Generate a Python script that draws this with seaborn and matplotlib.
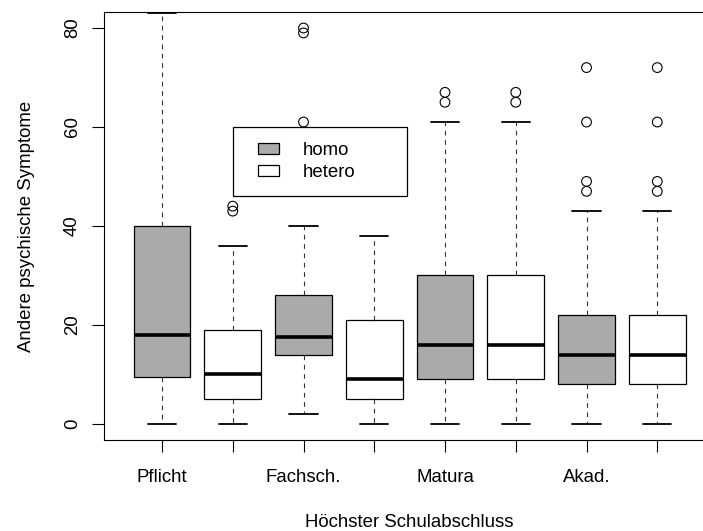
import matplotlib
matplotlib.use("Agg")
import matplotlib.pyplot as plt
from matplotlib.patches import Patch
from matplotlib.legend_handler import HandlerPatch
import pandas as pd
import seaborn as sns

# Groups: school-leaving level x orientation, one box per combination
schulabschluss = ["Pflicht", "Fachsch.", "Matura", "Akad."]
orientierung = ["homo", "hetero"]

# Box summaries in plotting order (Pflicht homo, Pflicht hetero, Fachsch. homo, ...)
whisker_lo = [0, 0, 2, 0, 0, 0, 0, 0]
quartil_1 = [9.5, 5, 14, 5, 9, 9, 8, 8]
median = [18, 10, 17.5, 9, 16, 16, 14, 14]
quartil_3 = [40, 19, 26, 21, 30, 30, 22, 22]
whisker_hi = [83, 36, 40, 38, 61, 61, 43, 43]
ausreisser = [[], [43, 44], [61, 79, 80], [], [65, 67], [65, 67],
              [47, 49, 61, 72], [47, 49, 61, 72]]

y_ticks = [0, 20, 40, 60, 80]
fill_colors = {"homo": "#AAAAAA", "hetero": "white"}

groups = [(s, o) for s in schulabschluss for o in orientierung]
slots = [f"{s} {o}" for s, o in groups]
tick_labels = [s if o == orientierung[0] else "" for s, o in groups]

box_rows = []
for i, (s, o) in enumerate(groups):
    for v in (whisker_lo[i], quartil_1[i], median[i], quartil_3[i], whisker_hi[i]):
        box_rows.append({"slot": slots[i], "Orientierung": o, "wert": v})
box_df = pd.DataFrame(box_rows)

out_df = pd.DataFrame([{"slot": slots[i], "wert": v}
                       for i in range(len(slots)) for v in ausreisser[i]])

sns.set_theme(style="white")
plt.rcParams["font.family"] = ["Liberation Sans", "DejaVu Sans"]
plt.rcParams["text.color"] = "black"
plt.rcParams["axes.labelcolor"] = "black"
FS = 13.4

fig = plt.figure(figsize=(7.03, 5.31), dpi=100)
ax = fig.add_axes([0.1479, 0.1718, 0.8696, 0.8053])

sns.boxplot(
    data=box_df, x="slot", y="wert", hue="Orientierung",
    order=slots, hue_order=orientierung, palette=fill_colors,
    dodge=False, width=0.8, whis=(0, 100), showfliers=False,
    linecolor="black", linewidth=0.9,
    medianprops={"linewidth": 2.6, "solid_capstyle": "butt"},
    whiskerprops={"linestyle": (0, (4.2, 4.2)), "linewidth": 0.8,
                  "color": "#333333"},
    capprops={"linewidth": 1.3},
    ax=ax,
)

n_before = len(ax.collections)
sns.stripplot(data=out_df, x="slot", y="wert", order=slots, jitter=False,
              color="black", size=7, marker="o", linewidth=0.8,
              edgecolor="black", legend=False, ax=ax)
for coll in ax.collections[n_before:]:
    coll.set_facecolor("none")
    coll.set_edgecolor("black")

sns.move_legend(
    ax, "upper left",
    bbox_to_anchor=(1, 60, 2.46, 0), bbox_transform=ax.transData,
    mode="expand", borderaxespad=0, title="", frameon=True, fancybox=False,
    framealpha=1, borderpad=0.8, handlelength=1.71, handleheight=0.54,
    handletextpad=1.26, labelspacing=0.28, fontsize=FS,
    handler_map={Patch: HandlerPatch(xpad=0.55)},
)
leg = ax.get_legend()
leg.get_frame().set_edgecolor("black")
leg.get_frame().set_linewidth(0.9)

ax.set_xlim(-0.82, 7.82)
ax.set_ylim(-3.2, 83.2)
ax.set_xticks(range(len(slots)))
ax.set_xticklabels(tick_labels, fontsize=FS)
ax.set_yticks(y_ticks)
ax.set_yticklabels([str(t) for t in y_ticks], rotation=90, va="center", fontsize=FS)
ax.tick_params(axis="both", direction="out", length=8.6, width=0.8,
               color="black", labelcolor="black", bottom=True, left=True)
ax.tick_params(axis="x", pad=12.5)
ax.tick_params(axis="y", pad=8)
for sp in ax.spines.values():
    sp.set_visible(True)
    sp.set_color("black")
    sp.set_linewidth(0.8)

ax.set_xlabel("Höchster Schulabschluss", fontsize=FS)
ax.set_ylabel("Andere psychische Symptome", fontsize=FS)
ax.xaxis.set_label_coords(0.5, (440 - 527) / 427.6)
ax.xaxis.label.set_va("baseline")
ax.yaxis.set_label_coords((31 - 104) / 611.3, 0.5)
ax.yaxis.label.set_va("baseline")

fig.savefig("out.png", dpi=100)
